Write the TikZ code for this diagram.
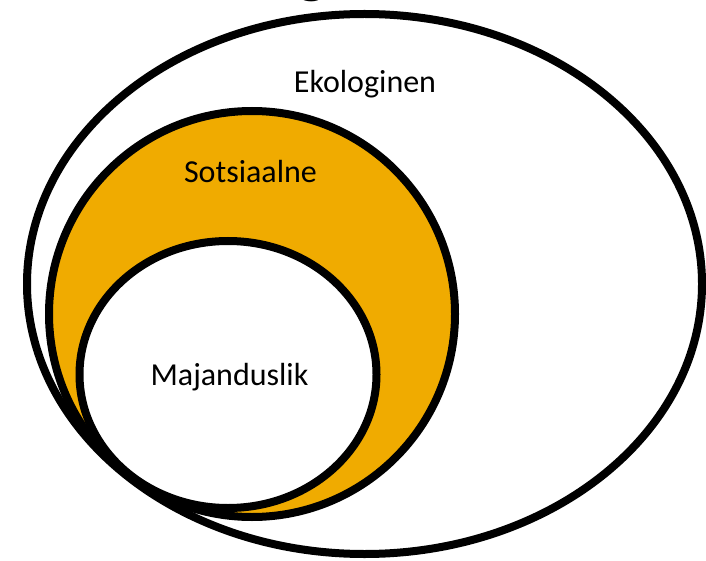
\documentclass[tikz,border=0pt]{standalone}
\usepackage{fontspec}
\setmainfont{Carlito}
\definecolor{sotsyellow}{RGB}{240,171,0}
\begin{document}
\begin{tikzpicture}[x=1pt,y=-1pt,
  ring/.style={draw=black,line width=8pt},
  lbl/.style={font=\fontsize{32}{38}\selectfont,anchor=base,inner sep=0pt},
  title/.style={font=\fontsize{66}{70}\selectfont,anchor=base,inner sep=0pt}]
\useasboundingbox (0,0) rectangle (706,561);
\clip (0,0) rectangle (706,561);
\node[title] (ttl) at (312,-9) {g};
\path[ring,fill=white] (364.5,284) ellipse [x radius=337.5, y radius=270];
\path[ring,fill=sotsyellow] (252,314) ellipse [x radius=203, y radius=203];
\path[ring,fill=white] (228,374.5) ellipse [x radius=148.5, y radius=133.5];
\node[lbl] (eko) at (365,93) {Ekologinen};
\node[lbl] (sots) at (250.5,183) {Sotsiaalne};
\node[lbl] (maj) at (229.5,385) {Majanduslik};
\end{tikzpicture}
\end{document}
